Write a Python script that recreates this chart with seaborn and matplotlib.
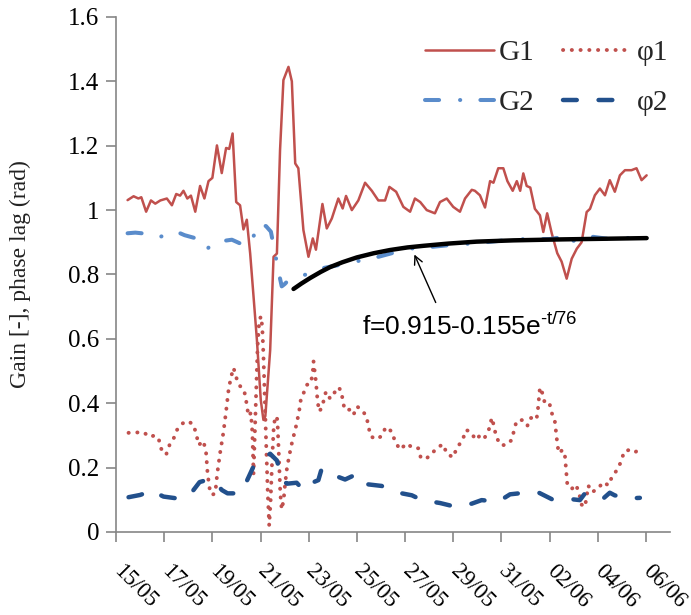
import numpy as np
import matplotlib
matplotlib.use("Agg")
import matplotlib.pyplot as plt
from matplotlib.transforms import ScaledTranslation
import seaborn as sns

# ---------------- data (days since 15/05 00:00) ----------------
g1_day = [0.48,0.73,0.93,1.05,1.25,1.45,1.63,1.84,2.11,2.32,
          2.5,2.66,2.8,2.96,3.11,3.29,3.49,3.67,3.84,4.0,
          4.19,4.39,4.57,4.7,4.84,4.99,5.15,5.29,5.43,5.57,
          5.71,5.85,6.01,6.12,6.2,6.4,6.54,6.68,6.81,6.95,
          7.16,7.3,7.44,7.57,7.78,7.99,8.17,8.3,8.57,8.75,
          8.96,9.23,9.41,9.55,9.79,10.06,10.34,10.62,10.89,11.17,
          11.35,11.63,11.93,12.21,12.41,12.63,12.9,13.24,13.45,13.73,
          14.0,14.28,14.49,14.77,14.9,15.11,15.32,15.53,15.67,15.87,
          16.08,16.25,16.47,16.64,16.78,16.91,17.05,17.2,17.39,17.6,
          17.74,17.9,18.09,18.32,18.5,18.71,18.92,19.13,19.33,19.54,
          19.68,19.88,20.09,20.3,20.5,20.71,20.92,21.13,21.4,21.61,
          21.82,22.03]
g1_val = [1.031,1.043,1.036,1.04,0.995,1.03,1.02,1.03,1.036,1.015,
          1.05,1.045,1.06,1.036,1.045,0.995,1.075,1.036,1.09,1.10,
          1.201,1.115,1.193,1.19,1.238,1.025,1.015,0.94,0.97,0.865,
          0.731,0.596,0.41,0.348,0.36,0.565,0.855,0.865,1.186,1.404,
          1.445,1.40,1.145,1.13,0.938,0.855,0.912,0.877,1.019,0.943,
          0.974,1.036,1.005,1.044,1.0,1.03,1.085,1.06,1.03,1.03,
          1.072,1.057,1.01,0.995,1.036,1.025,1.0,0.99,1.025,1.036,
          1.01,0.995,1.036,1.063,1.06,1.046,1.008,1.09,1.085,1.13,
          1.13,1.09,1.06,1.09,1.06,1.114,1.075,1.07,1.004,0.984,
          0.932,0.99,0.928,0.866,0.84,0.787,0.849,0.88,0.90,0.994,
          1.004,1.046,1.067,1.046,1.093,1.057,1.108,1.124,1.124,1.13,
          1.093,1.108]

g2_day = [0.48,0.8,1.07,1.7,2.32,2.6,2.85,3.33,3.77,3.9,
          4.05,4.81,5.43,5.64,5.96,6.23,6.43,6.6,6.79,6.88,
          7.0,7.18,7.44,7.92,8.61,9.3,10.25,10.9,12.14,13.0,
          14.1,14.9,16.0,17.0,18.0,18.6,18.75,19.5,20.5,21.2,
          21.96]
g2_val = [0.928,0.93,0.928,0.912,0.933,0.93,0.922,0.912,0.876,0.89,
          0.9,0.908,0.887,0.908,0.959,0.95,0.933,0.866,0.794,0.763,
          0.77,0.784,0.794,0.8,0.82,0.83,0.845,0.855,0.88,0.885,
          0.893,0.897,0.905,0.91,0.91,0.917,0.897,0.92,0.91,0.913,
          0.917]

p1_day = [0.52,1.14,1.4,1.6,1.77,1.86,2.08,2.22,2.39,2.52,
          2.73,2.97,3.21,3.33,3.43,3.63,3.74,3.80,3.88,3.98,
          4.12,4.2,4.32,4.46,4.57,4.67,4.77,4.88,4.99,5.13,
          5.32,5.42,5.5,5.6,5.66,5.71,5.76,5.82,5.88,5.94,
          6.01,6.07,6.12,6.18,6.24,6.3,6.36,6.42,6.48,6.55,
          6.62,6.7,6.76,6.82,6.88,6.96,7.02,7.1,7.2,7.33,
          7.44,7.53,7.61,7.67,7.78,7.92,8.09,8.17,8.2,8.3,
          8.37,8.44,8.57,8.65,8.72,8.89,9.1,9.23,9.37,9.41,
          9.51,9.72,9.86,10.0,10.2,10.4,10.48,10.58,10.8,11.03,
          11.2,11.45,11.58,11.79,12.07,12.34,12.55,12.66,12.9,13.15,
          13.39,13.59,13.73,14.0,14.14,14.39,14.53,14.7,14.95,15.13,
          15.3,15.5,15.6,15.7,15.78,15.97,16.2,16.43,16.53,16.63,
          16.88,17.08,17.18,17.32,17.46,17.52,17.6,17.71,17.8,17.99,
          18.1,18.22,18.27,18.32,18.38,18.54,18.64,18.69,18.74,18.92,
          19.1,19.24,19.33,19.47,19.61,19.75,19.98,20.23,20.44,20.62,
          20.8,20.99,21.09,21.31,21.54,21.82]
p1_val = [0.308,0.31,0.295,0.30,0.29,0.26,0.24,0.27,0.29,0.316,
          0.336,0.345,0.334,0.305,0.27,0.283,0.245,0.183,0.137,0.115,
          0.12,0.18,0.245,0.31,0.375,0.44,0.48,0.51,0.48,0.455,
          0.44,0.40,0.36,0.37,0.31,0.18,0.30,0.45,0.58,0.65,
          0.67,0.64,0.55,0.40,0.26,0.12,0.02,0.10,0.22,0.33,
          0.36,0.35,0.24,0.12,0.07,0.10,0.15,0.20,0.24,0.286,
          0.317,0.348,0.379,0.41,0.43,0.457,0.462,0.498,0.53,0.467,
          0.405,0.374,0.39,0.42,0.436,0.414,0.436,0.45,0.436,0.405,
          0.379,0.38,0.364,0.39,0.38,0.359,0.327,0.297,0.288,0.298,
          0.326,0.312,0.282,0.256,0.275,0.26,0.26,0.229,0.229,0.247,
          0.265,0.272,0.243,0.232,0.26,0.286,0.317,0.312,0.286,0.302,
          0.292,0.322,0.355,0.327,0.296,0.27,0.27,0.286,0.317,0.345,
          0.348,0.33,0.353,0.356,0.35,0.384,0.449,0.43,0.401,0.401,
          0.368,0.343,0.309,0.276,0.245,0.255,0.235,0.19,0.145,0.134,
          0.147,0.116,0.085,0.078,0.144,0.124,0.132,0.155,0.145,0.176,
          0.192,0.222,0.25,0.255,0.247,0.263]

p2_day = [0.52,1.0,1.56,1.7,1.97,2.66,3.08,3.47,3.7,3.84,
          4.19,4.4,4.63,5.15,5.36,5.73,5.9,6.1,6.4,6.68,
          6.92,7.1,7.5,7.78,7.92,8.4,8.54,9.23,9.51,10.0,
          10.34,11.03,11.52,12.28,12.7,13.45,14.0,14.77,15.18,15.87,
          16.36,16.98,17.53,18.09,18.64,19.26,19.47,19.7,20.23,20.5,
          20.7,21.2,21.75]
p2_val = [0.108,0.115,0.13,0.12,0.11,0.103,0.117,0.155,0.16,0.147,
          0.147,0.13,0.12,0.12,0.147,0.207,0.222,0.228,0.243,0.222,
          0.16,0.15,0.153,0.13,0.146,0.161,0.197,0.171,0.163,0.18,
          0.149,0.143,0.125,0.114,0.099,0.09,0.08,0.088,0.099,0.094,
          0.117,0.122,0.123,0.102,0.104,0.099,0.12,0.11,0.104,0.122,
          0.114,0.104,0.106]

# exponential fit curve
fit_day = [7.37,7.7,8.06,8.5,8.89,9.4,10.0,10.7,11.38,12.1,12.76,13.8,14.97,16.5,18.5,20.3,22.03]
fit_val = [0.755,0.772,0.789,0.808,0.823,0.838,0.853,0.866,0.876,0.884,0.889,0.896,0.902,0.906,0.909,0.911,0.913]

x_tick_pos = [0, 2, 4, 6, 8, 10, 12, 14, 16, 18, 20, 22]
x_tick_labels = ["15/05", "17/05", "19/05", "21/05", "23/05", "25/05",
                 "27/05", "29/05", "31/05", "02/06", "04/06", "06/06"]
y_tick_pos = [0, 0.2, 0.4, 0.6, 0.8, 1.0, 1.2, 1.4, 1.6]
y_tick_labels = ["0", "0.2", "0.4", "0.6", "0.8", "1", "1.2", "1.4", "1.6"]

for a, b in [(g1_day, g1_val), (g2_day, g2_val), (p1_day, p1_val), (p2_day, p2_val), (fit_day, fit_val)]:
    assert len(a) == len(b), (len(a), len(b))

# ---------------- style ----------------
sns.set_style("ticks")
plt.rcParams["font.family"] = ["Liberation Serif", "DejaVu Serif"]
plt.rcParams["mathtext.default"] = "regular"

RED = "#C0504D"
LBLUE = "#5A8CCB"
DBLUE = "#22508C"
AXC = "#868686"

fig = plt.figure(figsize=(6.91, 6.15), dpi=100)
ax = fig.add_axes([0.1679, 0.135, 0.8017, 0.8374])

common = dict(ax=ax, sort=False, estimator=None)
sns.lineplot(x=g1_day, y=g1_val, color=RED, linewidth=1.8, label="G1", **common)
sns.lineplot(x=p1_day, y=p1_val, color=RED, linewidth=2.8, linestyle=(0, (0.05, 2.2)),
             dash_capstyle="round", label="\u03c61", **common)
sns.lineplot(x=g2_day, y=g2_val, color=LBLUE, linewidth=2.9, linestyle=(0, (3.5, 5.2, 0.05, 5.0)),
             dash_capstyle="round", label="G2", **common)
sns.lineplot(x=p2_day, y=p2_val, color=DBLUE, linewidth=3.2, linestyle=(0, (3.1, 4.9)),
             dash_capstyle="round", label="\u03c62", **common)
sns.lineplot(x=fit_day, y=fit_val, color="black", linewidth=3.2, **common)

ax.set_xlim(0, 23.0)
ax.set_ylim(0, 1.6)
ax.set_xticks(x_tick_pos)
ax.set_xticklabels(x_tick_labels, rotation=-45, ha="left", va="top", rotation_mode="default")
ax.set_yticks(y_tick_pos)
ax.set_yticklabels(y_tick_labels)
ax.tick_params(axis="both", direction="out", length=7, width=1.2, color=AXC, labelsize=18, labelcolor="black")
ax.tick_params(axis="x", pad=14, labelsize=16.5)
ax.tick_params(axis="y", pad=5)
for lab in ax.get_xticklabels():
    lab.set_transform(lab.get_transform() + ScaledTranslation(-7 / 100, 0, fig.dpi_scale_trans))

for s in ["top", "right"]:
    ax.spines[s].set_visible(False)
for s in ["left", "bottom"]:
    ax.spines[s].set_color(AXC)
    ax.spines[s].set_linewidth(1.2)

ax.set_xlabel("")
ax.set_ylabel("Gain [-], phase lag (rad)", fontsize=17, color="#222222")
ax.yaxis.set_label_coords(-0.153, 0.5)

# annotation
ax.annotate("", xy=(12.34, 0.87), xytext=(13.32, 0.705),
            arrowprops=dict(arrowstyle="->,head_length=0.6,head_width=0.3", color="black", lw=1.0))
ax.text(14.69, 0.637, "f=0.915-0.155e$^{\u2010t/76}$", ha="center", va="center",
        fontsize=19, family=["Liberation Sans", "DejaVu Sans"], color="black")

# legend
handles, labels = ax.get_legend_handles_labels()
order = [labels.index(l) for l in ["G1", "G2", "\u03c61", "\u03c62"]]
ax.legend([handles[i] for i in order], [labels[i] for i in order], ncol=2,
          loc="upper left", bbox_to_anchor=(425 / 691, 1 - 40 / 615), bbox_transform=fig.transFigure,
          frameon=False, fontsize=21, handlelength=2.35, handletextpad=0.17,
          columnspacing=1.0, labelspacing=0.8, borderpad=0, borderaxespad=0)

fig.savefig("out.png", dpi=100)
